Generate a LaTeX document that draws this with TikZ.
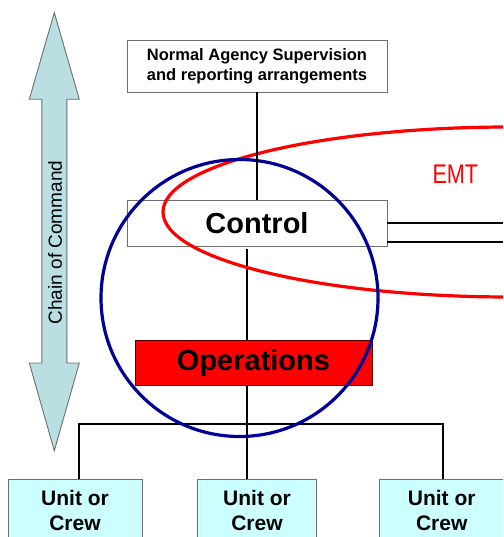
\documentclass[tikz,border=0pt]{standalone}
\usepackage{fontspec}
\setmainfont{Liberation Sans}
\definecolor{cmdfill}{RGB}{185,223,226}
\definecolor{unitfill}{RGB}{204,255,255}
\definecolor{ringblue}{RGB}{0,0,150}
\definecolor{boxedge}{RGB}{110,110,110}
\tikzset{
  orgbox/.style={draw=boxedge, line width=0.9pt, rectangle, inner sep=0pt, align=center},
  unitbox/.style={orgbox, fill=unitfill, minimum height=80pt},
  link/.style={draw=black, line width=2.2pt},
  ring/.style={line width=3.2pt},
  unitlabel/.style={font=\fontsize{21}{25}\selectfont\bfseries, anchor=base},
}
\begin{document}
\begin{tikzpicture}[x=1pt, y=-1pt]
  \useasboundingbox (0,0) rectangle (503,537);
  \clip (0,0) rectangle (503,537);
  \fill[white] (0,0) rectangle (503,537);

  % chain of command double arrow
  \draw[fill=cmdfill, draw=boxedge, line width=0.9pt]
    (54.3,12.7) -- (79.3,99.3) -- (66.8,99.3) -- (66.8,363) -- (79.3,363)
    -- (54.3,450.7) -- (29.3,363) -- (41.8,363) -- (41.8,99.3) -- (29.3,99.3) -- cycle;
  \node[rotate=90, font=\fontsize{19}{22}\selectfont] (chain) at (55,242.5) {Chain of Command};

  % boxes
  \node[orgbox, fill=white, minimum width=260pt, minimum height=52pt,
        font=\fontsize{16.5}{20}\selectfont\bfseries] (agency) at (257,66)
        {Normal Agency Supervision\\and reporting arrangements};
  \node[orgbox, fill=white, minimum width=260pt, minimum height=46pt,
        font=\fontsize{29}{32}\selectfont\bfseries] (ctrl) at (257,223) {Control};
  \node[orgbox, draw=black!70!red, fill=red, minimum width=237pt, minimum height=45pt,
        font=\fontsize{29}{32}\selectfont\bfseries] (ops) at (253.5,362.5) {Operations};
  \node[unitbox, minimum width=134pt] (u1) at (75,519) {};
  \node[unitbox, minimum width=119pt] (u2) at (257,519) {};
  \node[unitbox, minimum width=125pt] (u3) at (441.7,519) {};
  \foreach \u in {u1,u2,u3}{
    \node[unitlabel] at ([yshift=-26.7pt]\u.north) {Unit or};
    \node[unitlabel] at ([yshift=-52pt]\u.north) {Crew};
  }

  % connectors below the control box
  \coordinate (trunk) at (247,300);
  \coordinate (bar) at (247,424);
  \coordinate (rightedge) at (503,223);
  \draw[link] (trunk |- ctrl.south) ++(0,3) -- (trunk |- ops.north);
  \draw[link] (trunk |- ops.south) -- (trunk |- u2.north);
  \draw[link] ([xshift=4pt]u1.north) -- ([xshift=4pt]u1.north |- bar)
              -- ([xshift=1pt]u3.north |- bar) -- ([xshift=1pt]u3.north);
  \draw[link, line width=1.8pt] ([yshift=-0.3pt]ctrl.east) -- ([yshift=-0.3pt]ctrl.east -| rightedge);
  \draw[link, line width=1.8pt] ([yshift=-18.7pt]ctrl.east) -- ([yshift=-18.7pt]ctrl.east -| rightedge);

  % EMT ellipse and control/operations ring
  \draw[red, ring] (510,212) ellipse [x radius=347, y radius=85];
  \node[red, font=\fontsize{27}{30}\selectfont, xscale=0.8, anchor=base] (emt) at (455.3,184) {EMT};
  \draw[ringblue, ring] (239.5,298) circle [radius=138.5];

  % reporting line above the control box
  \draw[link] (agency.south) -- (ctrl.north);
\end{tikzpicture}
\end{document}
